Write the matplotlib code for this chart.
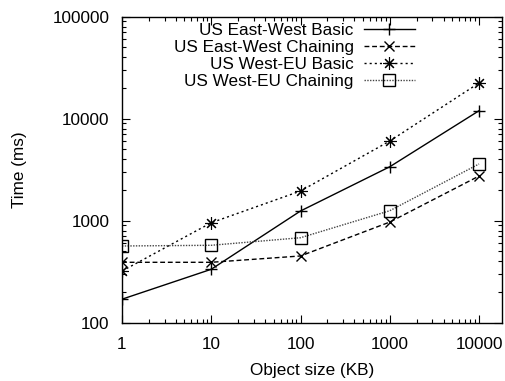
import matplotlib
matplotlib.use("Agg")
import matplotlib.pyplot as plt
from matplotlib.ticker import LogLocator, FixedLocator, NullFormatter

plt.rcParams['font.family'] = ['Liberation Sans', 'DejaVu Sans']

sizes = [1, 10, 100, 1000, 10000]
ew_basic = [170, 334, 1245, 3380, 11970]
ew_chain = [391, 391, 451, 970, 2740]
weu_basic = [321, 955, 1954, 6040, 22400]
weu_chain = [565, 574, 681, 1253, 3600]

labels = ["US East-West Basic", "US East-West Chaining",
          "US West-EU Basic", "US West-EU Chaining"]
x_ticks = [1, 10, 100, 1000, 10000]
y_ticks = [100, 1000, 10000, 100000]

fs = 12.3
fig = plt.figure(figsize=(5.06, 3.81), dpi=100)
W, H = 506, 381
left, right, top, bottom = 122, 501.7, 16.7, 322.7
ax = fig.add_axes([left / W, 1 - bottom / H, (right - left) / W, (bottom - top) / H])

ax.plot(sizes, ew_basic, color='black', lw=1, ls='-', marker='+', ms=9, mew=1, label=labels[0])
ax.plot(sizes, ew_chain, color='black', lw=1, ls=(0, (3.5, 2)), marker='x', ms=7.7, mew=1, label=labels[1])
ax.plot(sizes, weu_basic, color='black', lw=1, ls=(0, (1.5, 2.2)), marker=(8, 2, 0), ms=9, mew=0.8, label=labels[2])
ax.plot(sizes, weu_chain, color='#444444', lw=1, ls=(0, (1, 1)), marker='s', ms=8.4, mew=1,
        mfc='none', mec='black', label=labels[3])

ax.set_xscale('log')
ax.set_yscale('log')
ax.set_xlim(1, 10 ** 4.254)
ax.set_ylim(100, 100000)

ax.xaxis.set_major_locator(FixedLocator(x_ticks))
ax.yaxis.set_major_locator(FixedLocator(y_ticks))
ax.set_xticklabels([str(v) for v in x_ticks])
ax.set_yticklabels([str(v) for v in y_ticks])
ax.xaxis.set_minor_locator(LogLocator(base=10, subs=range(2, 10), numticks=20))
ax.yaxis.set_minor_locator(LogLocator(base=10, subs=range(2, 10), numticks=20))
ax.xaxis.set_minor_formatter(NullFormatter())
ax.yaxis.set_minor_formatter(NullFormatter())

ax.tick_params(which='both', direction='in', top=True, right=True, width=0.8, labelsize=fs)
ax.tick_params(which='major', length=6)
ax.tick_params(which='minor', length=3)
ax.tick_params(axis='y', pad=9)
ax.tick_params(axis='x', pad=10)
for sp in ax.spines.values():
    sp.set_linewidth(1)

ax.set_xlabel("Object size (KB)", fontsize=fs, labelpad=8)
ax.set_ylabel("Time (ms)", fontsize=fs, labelpad=18)

leg = ax.legend(loc='upper right', bbox_to_anchor=(415 / W, 1 - 23 / H), bbox_transform=fig.transFigure,
                frameon=False, markerfirst=False, fontsize=fs, handlelength=3.0,
                handletextpad=0.6, labelspacing=0.12, borderpad=0, borderaxespad=0)
for t in leg.get_texts():
    t.set_ha('right')

fig.savefig("out.png", dpi=100)
